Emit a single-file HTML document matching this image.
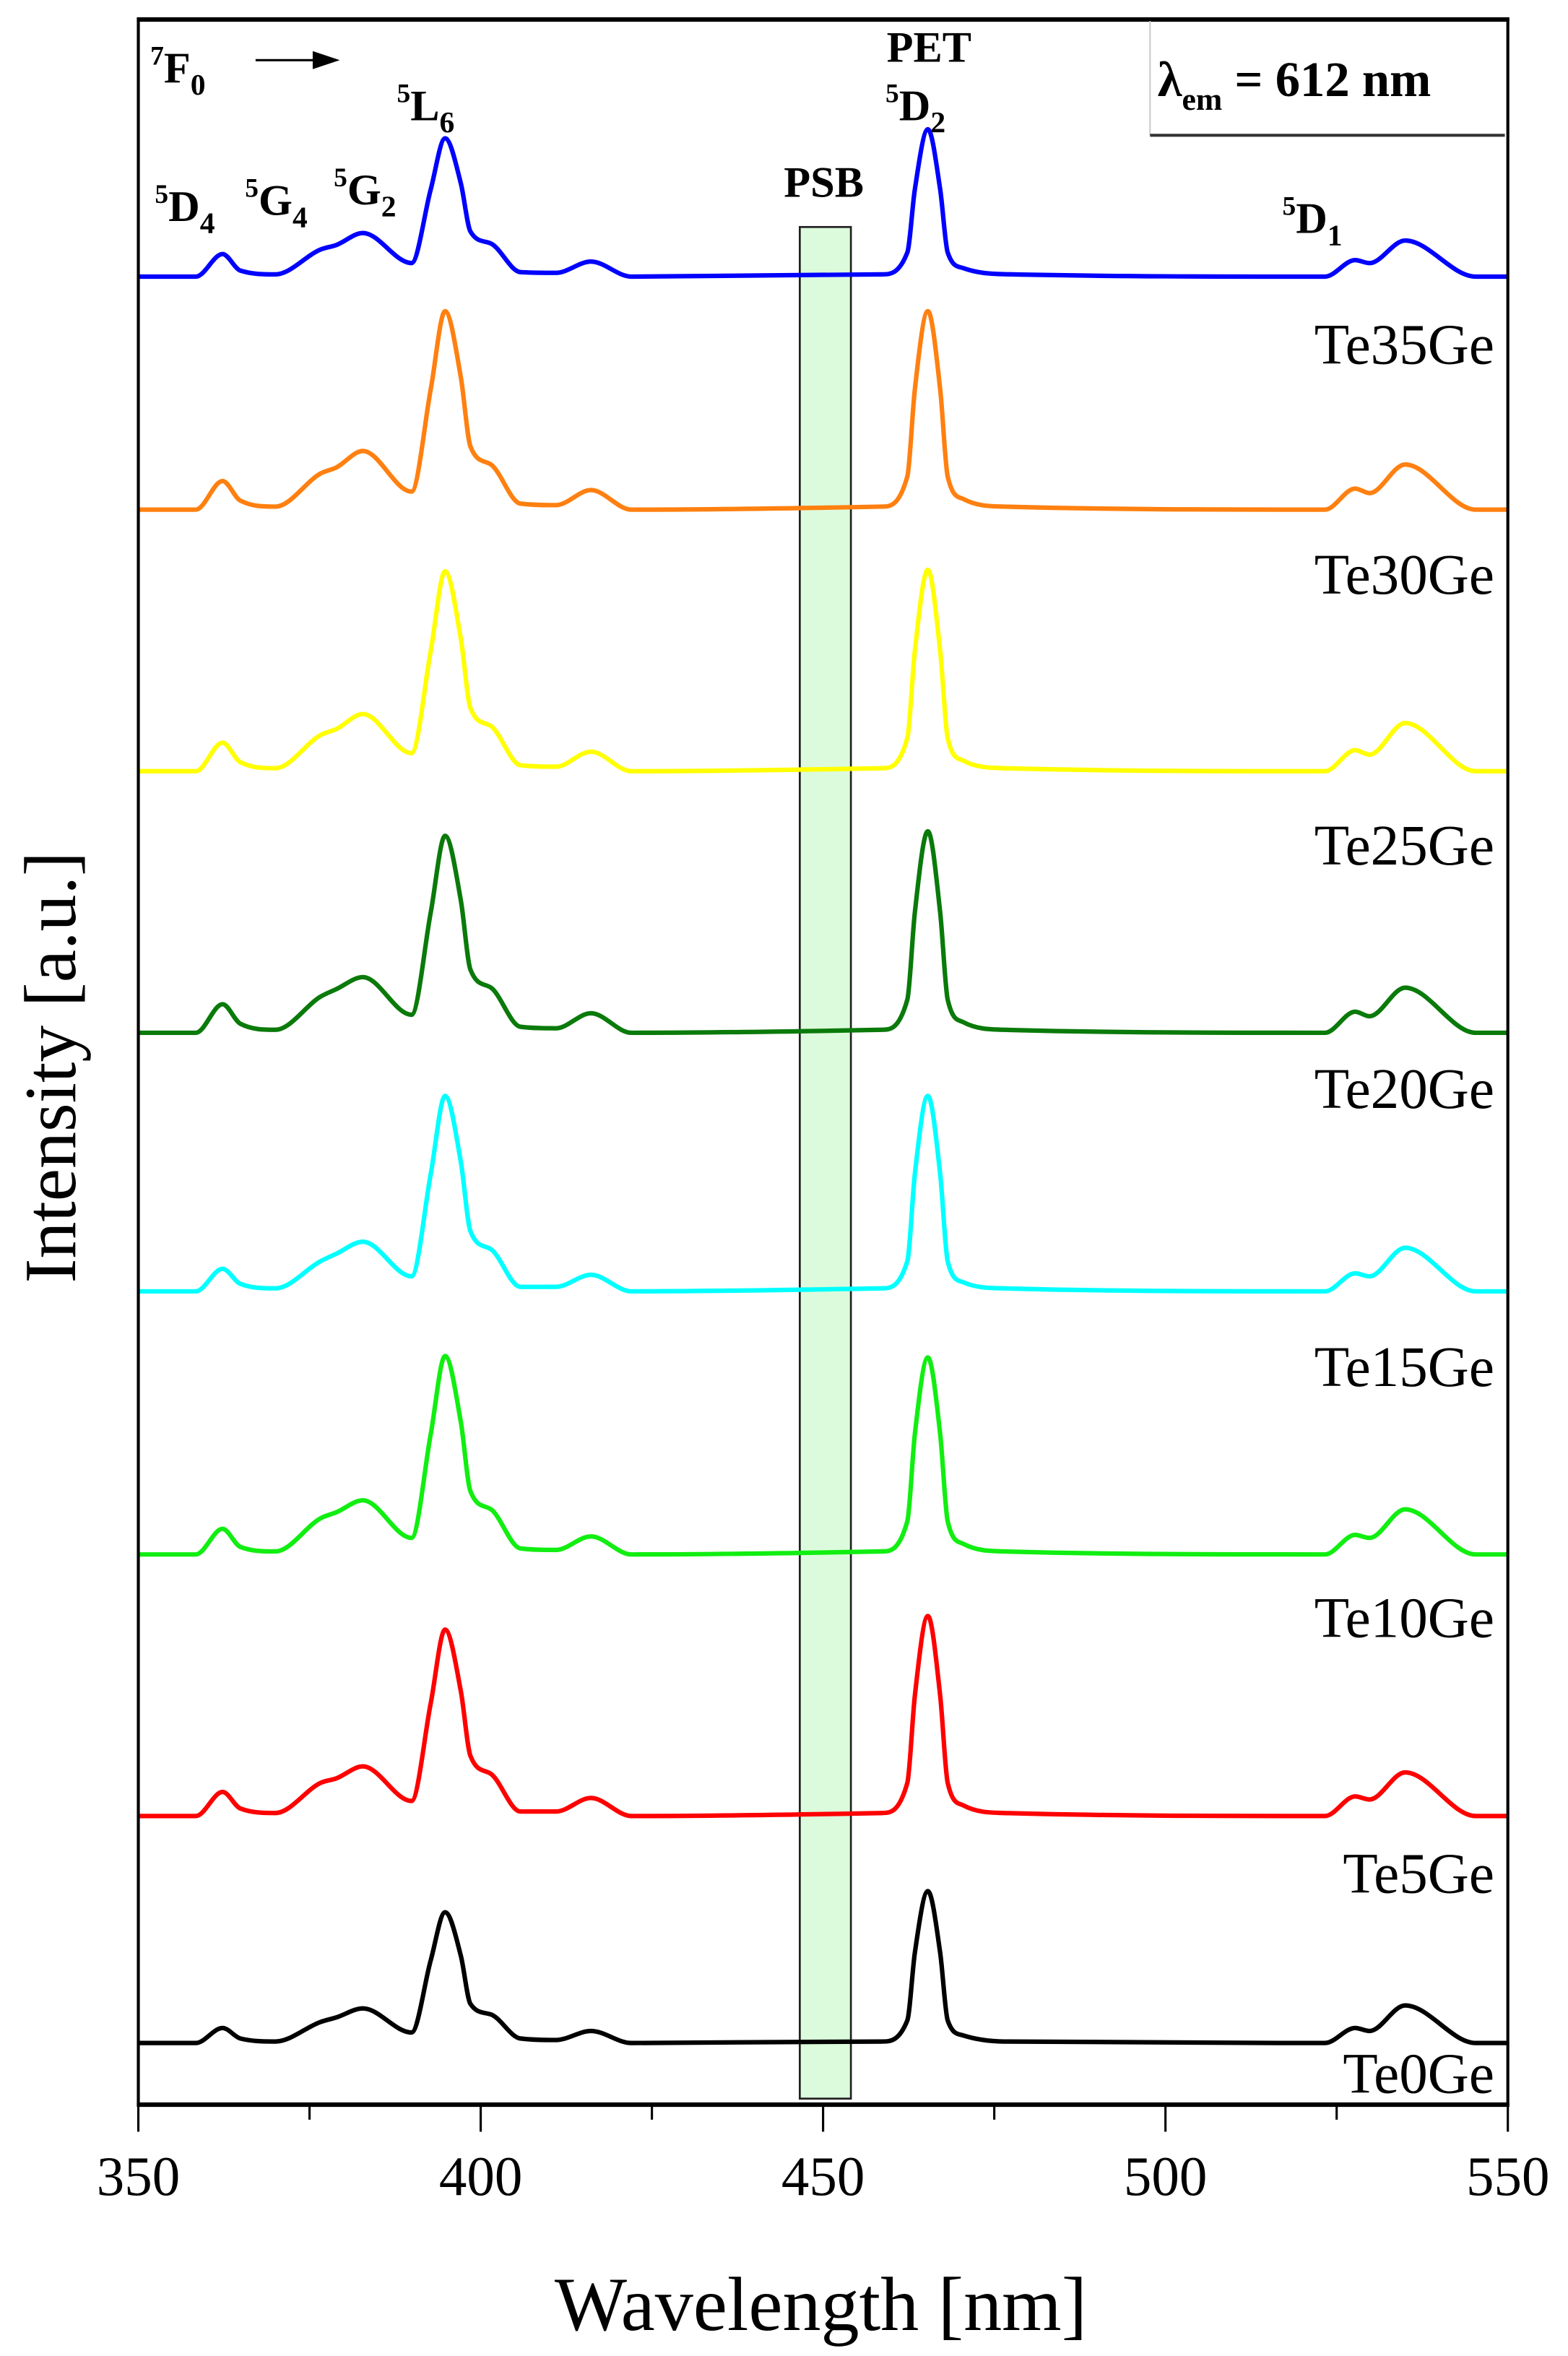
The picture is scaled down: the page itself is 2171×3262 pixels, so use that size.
<!DOCTYPE html>
<html><head><meta charset="utf-8"><style>
html,body{margin:0;padding:0;background:#fff}
svg{display:block}
text{font-family:"Liberation Serif",serif}
</style></head><body>
<svg id="chart" width="2171" height="3262" viewBox="0 0 1043 1567.2" xmlns="http://www.w3.org/2000/svg">
<rect x="532" y="151" width="34" height="1245" fill="#d6fad6" fill-opacity="0.85" stroke="#222" stroke-width="1.3"/>
<g id="series"></g>
<rect x="92" y="13" width="911" height="1387" fill="none" stroke="#000" stroke-width="2"/>
<line x1="91" y1="13" x2="1004" y2="13" stroke="#000" stroke-width="3"/>
<line x1="91" y1="1400" x2="1004" y2="1400" stroke="#000" stroke-width="3"/>
<g id="ticks"></g>
<g>
<line x1="765" y1="14" x2="765" y2="90" stroke="#ccc" stroke-width="1"/>
<line x1="765" y1="90" x2="1001" y2="90" stroke="#333" stroke-width="2"/>
<text x="770" y="64" font-size="33" font-weight="bold">λ<tspan font-size="21" dy="9">em</tspan><tspan dy="-9"> = 612 nm</tspan></text>
</g>
<g font-weight="bold" font-size="29">
<text x="100" y="55"><tspan font-size="18" dy="-12">7</tspan><tspan dy="12">F</tspan><tspan font-size="20" dy="8">0</tspan></text>
<line x1="170" y1="40" x2="212" y2="40" stroke="#000" stroke-width="1.5"/>
<polygon points="208,34 226,40 208,46" fill="#000"/>
<text x="264" y="80"><tspan font-size="18" dy="-12">5</tspan><tspan dy="12">L</tspan><tspan font-size="20" dy="8">6</tspan></text>
<text x="103" y="147"><tspan font-size="18" dy="-12">5</tspan><tspan dy="12">D</tspan><tspan font-size="20" dy="8">4</tspan></text>
<text x="163" y="143"><tspan font-size="18" dy="-12">5</tspan><tspan dy="12">G</tspan><tspan font-size="20" dy="8">4</tspan></text>
<text x="222" y="136"><tspan font-size="18" dy="-12">5</tspan><tspan dy="12">G</tspan><tspan font-size="20" dy="8">2</tspan></text>
<text x="548" y="131" text-anchor="middle">PSB</text>
<text x="618" y="41" text-anchor="middle">PET</text>
<text x="589" y="80"><tspan font-size="18" dy="-12">5</tspan><tspan dy="12">D</tspan><tspan font-size="20" dy="8">2</tspan></text>
<text x="853" y="155"><tspan font-size="18" dy="-12">5</tspan><tspan dy="12">D</tspan><tspan font-size="20" dy="8">1</tspan></text>
</g>
<g id="names" font-size="38" text-anchor="end"></g>
<text x="546" y="1550" font-size="51" text-anchor="middle">Wavelength [nm]</text>
<text x="0" y="0" font-size="49" text-anchor="middle" transform="translate(50,710) rotate(-90)">Intensity [a.u.]</text>
</svg>
<script>
const wavelengths=[350,358.4,362.3,364.9,370,376.6,378.9,382.8,389.9,392.7,394.8,397.1,398.5,401.5,405.8,411,416.1,422,458.6,462.3,463.4,465.3,467.1,468.2,470.5,476.4,523.3,527.7,529.8,535,545.3,550];
const sampleNames=["Te35Ge","Te30Ge","Te25Ge","Te20Ge","Te15Ge","Te10Ge","Te5Ge","Te0Ge"];
const seriesColors=["#0000ff","#ff8010","#ffff00","#0a7a0a","#00ffff","#11ee11","#ff0000","#000000"];
const offsets=[1216,1061,887,713,541,366,192,41];
const sTe35=[0,0,15,4,1.5,18,21,29,9,58,92,62,30,22,3,2.5,10,0,1.5,16,58,98,58,16,5.6,1.6,0,11,9,24,0,0];
const sTe30=[0,0,19,6,2,24,28,39,12,80,132,88,42,30,4,3,13,0,2,22,80,132,80,22,7,2,0,14,11,30,0,0];
const sTe25=[0,0,19,6,2,24,28,38,12,80,133,88,42,30,4,3,13,0,2,22,80,134,80,22,7,2,0,14,11,32,0,0];
const sTe20=[0,0,19,6,2,24,29,37,12,80,131,88,42,30,4,3,13,0,2,22,80,134,80,22,7,2,0,14,11,30,0,0];
const sTe15=[0,0,15,5,2,20,25,33,10,78,130,86,40,28,3,3,11,0,2,20,78,130,78,20,6,2,0,12,10,29,0,0];
const sTe10=[0,0,17,5,2,24,28,36,11,80,132,88,42,30,4,3,12,0,2,22,80,131,80,22,7,2,0,13,11,30,0,0];
const sTe5=[0,0,16,5,2,22,25,33,10,75,124,83,40,28,3,3,12,0,2,22,80,133,80,22,7,2,0,13,11,29,0,0];
const sTe0=[0,0,10,3,1,14,17,23,7,55,87,58,26,19,3,2,8,0,1,15,60,101,60,15,5,1,0,10,8,25,0,0];
const xTicks=[350,400,450,500,550];
const xMinor=[375,425,475,525];
const labelY=[242,395,575,737,922,1089,1259,1392];
const allSeries=[sTe35,sTe30,sTe25,sTe20,sTe15,sTe10,sTe5,sTe0];

const NS="http://www.w3.org/2000/svg";
function xs(v){return 92+(v-350)/200*911;}
function ys(v){return 1400-v;}
function path(pts){
  const n=pts.length,d=[],m=new Array(n);
  for(let i=0;i<n-1;i++)d.push((pts[i+1][1]-pts[i][1])/(pts[i+1][0]-pts[i][0]));
  m[0]=d[0];m[n-1]=d[n-2];
  for(let i=1;i<n-1;i++){m[i]=(d[i-1]*d[i]<=0)?0:(d[i-1]+d[i])/2;}
  for(let i=0;i<n-1;i++){
    if(d[i]===0){m[i]=0;m[i+1]=0;continue;}
    const a=m[i]/d[i],b=m[i+1]/d[i],s=a*a+b*b;
    if(s>9){const t=3/Math.sqrt(s);m[i]=t*a*d[i];m[i+1]=t*b*d[i];}
  }
  let p="M"+pts[0][0].toFixed(2)+","+pts[0][1].toFixed(2);
  for(let i=0;i<n-1;i++){
    const h=(pts[i+1][0]-pts[i][0])/3;
    p+="C"+(pts[i][0]+h).toFixed(2)+","+(pts[i][1]+m[i]*h).toFixed(2)+" "+(pts[i+1][0]-h).toFixed(2)+","+(pts[i+1][1]-m[i+1]*h).toFixed(2)+" "+pts[i+1][0].toFixed(2)+","+pts[i+1][1].toFixed(2);
  }
  return p;
}
const g=document.getElementById("series");
allSeries.forEach((s,k)=>{
  const pts=wavelengths.map((w,i)=>[xs(w),ys(offsets[k]+s[i])]);
  const p=document.createElementNS(NS,"path");
  p.setAttribute("d",path(pts));
  p.setAttribute("fill","none");
  p.setAttribute("stroke",seriesColors[k]);
  p.setAttribute("stroke-width","3");
  p.setAttribute("stroke-linejoin","round");
  
  
  g.appendChild(p);
});
const nm=document.getElementById("names");
sampleNames.forEach((n,k)=>{
  const t=document.createElementNS(NS,"text");
  t.setAttribute("x",994);t.setAttribute("y",labelY[k]);
  t.textContent=n;
  
  
  nm.appendChild(t);
});
const tg=document.getElementById("ticks");
xTicks.forEach(v=>{
  const l=document.createElementNS(NS,"line");
  l.setAttribute("x1",xs(v));l.setAttribute("x2",xs(v));l.setAttribute("y1",1400);l.setAttribute("y2",1418);
  l.setAttribute("stroke","#000");l.setAttribute("stroke-width","1.5");
  
  
  tg.appendChild(l);
  const t=document.createElementNS(NS,"text");
  t.setAttribute("x",xs(v));t.setAttribute("y",1460);t.setAttribute("font-size","37");t.setAttribute("text-anchor","middle");
  t.textContent=v;
  
  
  tg.appendChild(t);
});
xMinor.forEach(v=>{
  const l=document.createElementNS(NS,"line");
  l.setAttribute("x1",xs(v));l.setAttribute("x2",xs(v));l.setAttribute("y1",1400);l.setAttribute("y2",1410);
  l.setAttribute("stroke","#000");l.setAttribute("stroke-width","1.5");
  
  
  tg.appendChild(l);
});
</script>
</body></html>
